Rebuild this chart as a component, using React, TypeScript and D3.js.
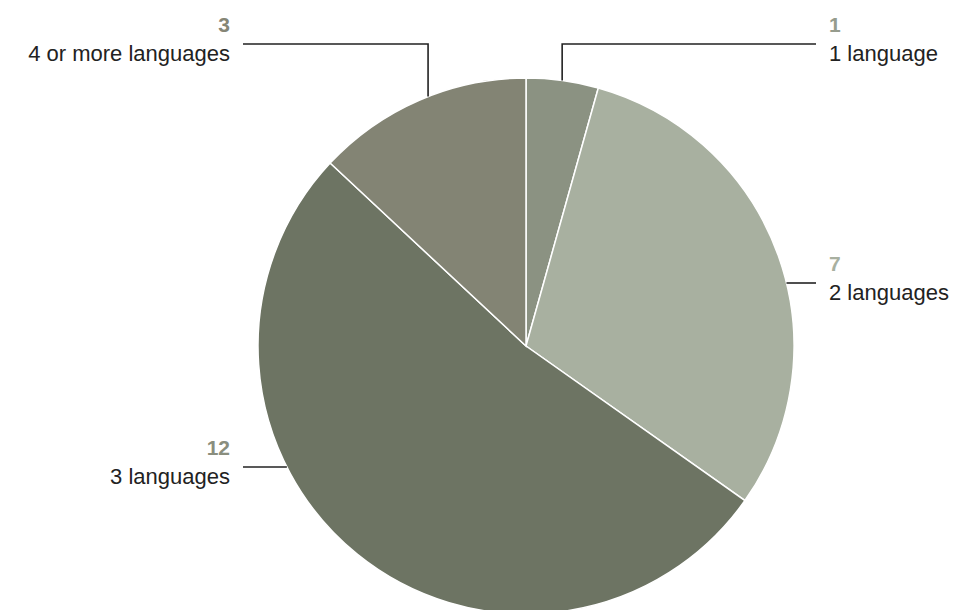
import React from "react";
import * as d3 from "d3";

const categories = ["1 language", "2 languages", "3 languages", "4 or more languages"];
const values = [1, 7, 12, 3];
const colors = ["#8b9282", "#a8b0a0", "#6d7463", "#838474"];
const valueLabelColors = ["#969c8d", "#a8b0a0", "#8a8e7e", "#858676"];

// layout: y level of each label's leader line
const labelLevels = [44, 283, 467, 44];

const W = 960;
const H = 610;
const CX = 526;
const CY = 346;
const R = 268;
const RIGHT_COL = 816;
const LEFT_COL = 243;
const TEXT_GAP = 13;
const FONT = "'Liberation Sans', Arial, sans-serif";

export default function App() {
  const pie = d3.pie<number>().sort(null).value((d) => d).startAngle(0).endAngle(2 * Math.PI);
  const arcs = pie(values);
  const arc = d3.arc<d3.PieArcDatum<number>>().innerRadius(0).outerRadius(R);

  return (
    <svg width={W} height={H} style={{ position: "absolute", left: 0, top: 0, background: "#fff" }}>
      <g transform={`translate(${CX},${CY})`}>
        {arcs.map((a, i) => (
          <path key={i} d={arc(a) || ""} fill={colors[i]} stroke="#fff" strokeWidth={1.5} />
        ))}
      </g>
      {arcs.map((a, i) => {
        const mid = (a.startAngle + a.endAngle) / 2;
        const sx = Math.sin(mid);
        const right = sx >= 0;
        const level = labelLevels[i];
        let pts: [number, number][];
        if (level < CY - R) {
          // vertical leader at the chord midpoint of the slice
          const px = CX + (R * (Math.sin(a.startAngle) + Math.sin(a.endAngle))) / 2;
          const dx = px - CX;
          const py = CY - Math.sqrt(Math.max(0, R * R - dx * dx));
          pts = [
            [px, py],
            [px, level],
            [right ? RIGHT_COL : LEFT_COL, level],
          ];
        } else {
          const dy = level - CY;
          const dx = Math.sqrt(Math.max(0, R * R - dy * dy));
          const ex = right ? CX + dx : CX - dx;
          pts = [
            [ex, level],
            [right ? RIGHT_COL : LEFT_COL, level],
          ];
        }
        const line = d3.line();
        const tx = right ? RIGHT_COL + TEXT_GAP : LEFT_COL - TEXT_GAP;
        const anchor = right ? "start" : "end";
        return (
          <g key={i}>
            <path d={line(pts) || ""} fill="none" stroke="#222" strokeWidth={1.6} />
            <text
              x={tx}
              y={level - 12}
              textAnchor={anchor}
              fontFamily={FONT}
              fontSize={21}
              fontWeight="bold"
              fill={valueLabelColors[i]}
            >
              {values[i]}
            </text>
            <text x={tx} y={level + 17} textAnchor={anchor} fontFamily={FONT} fontSize={22} fill="#222">
              {categories[i]}
            </text>
          </g>
        );
      })}
    </svg>
  );
}
